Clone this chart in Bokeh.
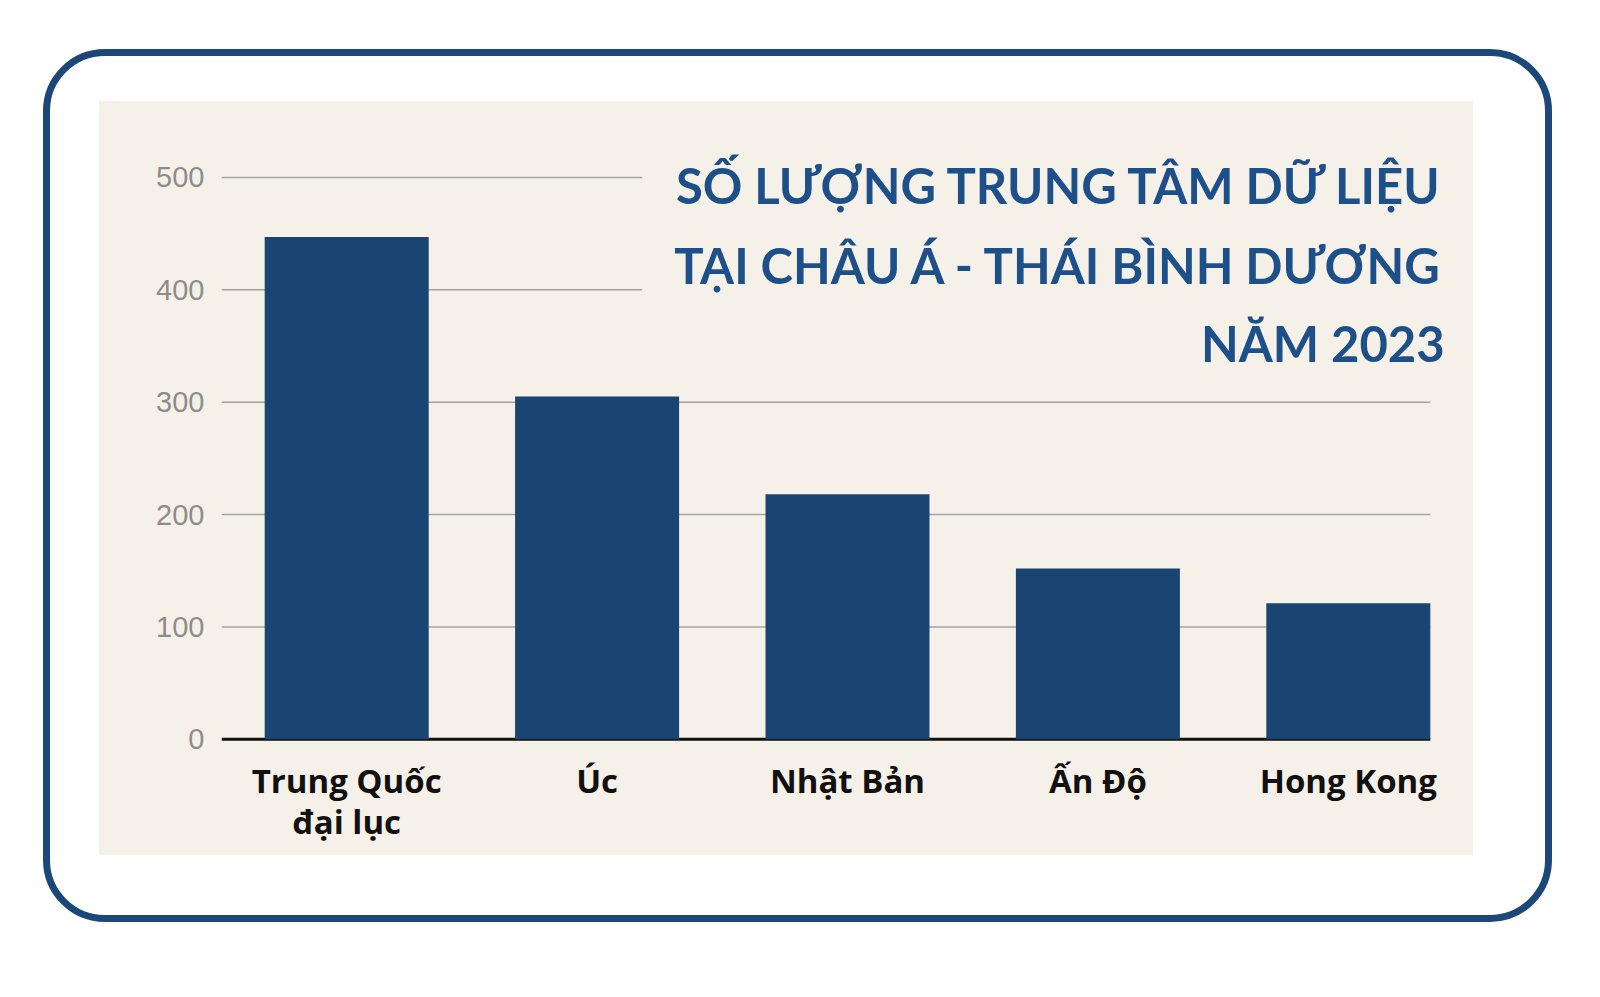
from bokeh.plotting import figure
from bokeh.layouts import column
from bokeh.models import Range1d, FixedTicker, Label
from bokeh.embed import file_html
from bokeh.resources import INLINE

# data
categories = ["Trung Quốc\nđại lục", "Úc", "Nhật Bản", "Ấn Độ", "Hong Kong"]
counts = [447, 305, 218, 152, 121]
y_ticks = [0, 100, 200, 300, 400, 500]
title_lines = ["SỐ LƯỢNG TRUNG TÂM DỮ LIỆU", "TẠI CHÂU Á - THÁI BÌNH DƯƠNG", "NĂM 2023"]

BAR_COLOR = "#1a4472"
TITLE_COLOR = "#1d4f88"
FRAME_COLOR = "#1b4779"
PANEL_COLOR = "#f6f1e8"
BAR_W = 0.655

xs = list(range(len(categories)))

# the figure is the beige panel; the white margin and rounded frame are css on the wrapper
p = figure(width=1374, height=754,
           x_range=Range1d(-0.5, len(categories) - 0.5),
           y_range=Range1d(-2, 540),
           output_backend="svg", toolbar_location=None,
           min_border_left=122, min_border_right=0,
           min_border_top=31, min_border_bottom=114)
p.styles = {"background-color": PANEL_COLOR}
p.border_fill_color = PANEL_COLOR
p.background_fill_color = None
p.outline_line_color = None
p.xgrid.visible = False
p.ygrid.visible = False

# gridlines: the top two stop short of the title
last_edge = xs[-1] + BAR_W / 2
short_end = 1.18
grid_y = y_ticks[1:]
grid_x1 = [last_edge if t <= 300 else short_end for t in grid_y]
p.segment(x0=-0.5, y0=grid_y, x1=grid_x1, y1=grid_y, line_color="#a3a3a3", line_width=1.5)
p.segment(x0=[-0.5], y0=[0], x1=[last_edge], y1=[0], line_color="#111111", line_width=3)

p.vbar(x=xs, top=counts, bottom=0, width=BAR_W, fill_color=BAR_COLOR, line_color=None)

title_y = [493, 422, 353]
for line, yv in zip(title_lines, title_y):
    p.add_layout(Label(x=4.385, y=yv, text=line, text_align="right", text_baseline="alphabetic",
                       text_font="Lato", text_font_style="bold", text_font_size="49px",
                       text_color=TITLE_COLOR))

p.xaxis.ticker = FixedTicker(ticks=xs)
p.xaxis.major_label_overrides = {i: c for i, c in enumerate(categories)}
p.xaxis.axis_line_color = None
p.xaxis.major_tick_line_color = None
p.xaxis.minor_tick_line_color = None
p.xaxis.major_tick_out = 0
p.xaxis.major_tick_in = 0
p.xaxis.major_label_standoff = 16
p.xaxis.major_label_text_font = "Open Sans"
p.xaxis.major_label_text_font_style = "bold"
p.xaxis.major_label_text_font_size = "33px"
p.xaxis.major_label_text_line_height = 0.92
p.xaxis.major_label_text_color = "#111111"

p.yaxis.ticker = FixedTicker(ticks=y_ticks)
p.yaxis.axis_line_color = None
p.yaxis.major_tick_line_color = None
p.yaxis.minor_tick_line_color = None
p.yaxis.major_tick_out = 0
p.yaxis.major_tick_in = 0
p.yaxis.major_label_standoff = 17
p.yaxis.major_label_text_font = "Liberation Sans"
p.yaxis.major_label_text_font_size = "29px"
p.yaxis.major_label_text_color = "#8c8c8c"

page = column(p, styles={
    "border": "7px solid " + FRAME_COLOR,
    "border-radius": "62px",
    "padding": "45px 72px 60px 49px",
    "margin": "49px 0 0 43px",
    "background": "white",
})

open("out.html", "w", encoding="utf-8").write(file_html(page, INLINE))
